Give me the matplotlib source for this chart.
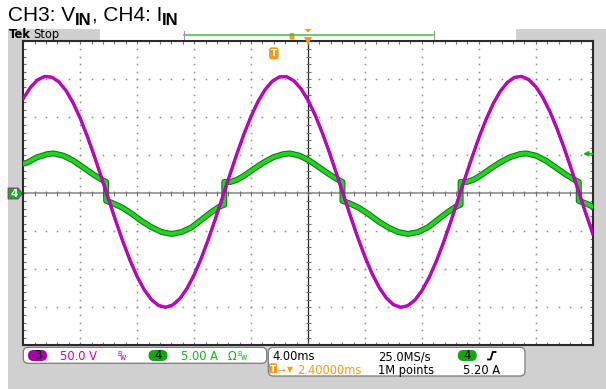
import matplotlib
matplotlib.use('Agg')
import numpy as np
import matplotlib.pyplot as plt
from matplotlib.patches import FancyBboxPatch, Polygon, Rectangle
from matplotlib.collections import LineCollection
from matplotlib.transforms import blended_transform_factory

# //////////////////////////////
# VALUES (time in ms, trigger point = 0)

# CH3 : input voltage [V]
t_v = [-20.0, -19.5, -19.0, -18.5, -18.0, -17.5, -17.0, -16.5, -16.0, -15.5,
       -15.0, -14.5, -14.0, -13.5, -13.0, -12.5, -12.0, -11.5, -11.0, -10.5,
       -10.0, -9.5, -9.0, -8.5, -8.0, -7.5, -7.0, -6.5, -6.0, -5.5,
       -5.0, -4.5, -4.0, -3.5, -3.0, -2.5, -2.0, -1.5, -1.0, -0.5,
       0.0, 0.5, 1.0, 1.5, 2.0, 2.5, 3.0, 3.5, 4.0, 4.5,
       5.0, 5.5, 6.0, 6.5, 7.0, 7.5, 8.0, 8.5, 9.0, 9.5,
       10.0, 10.5, 11.0, 11.5, 12.0, 12.5, 13.0, 13.5, 14.0, 14.5,
       15.0, 15.5, 16.0, 16.5, 17.0, 17.5, 18.0, 18.5, 19.0, 19.5, 20.0]
v_in = [124.7, 139.3, 149.2, 153.7, 152.8, 146.6, 135.1, 119.0, 98.6, 74.8,
        48.4, 20.3, -8.4, -36.7, -63.7, -88.3, -109.7, -127.1, -139.9, -147.6,
        -150.0, -146.9, -138.6, -125.2, -107.3, -85.5, -60.5, -33.3, -4.9, 23.8,
        51.7, 77.8, 101.3, 121.2, 136.8, 147.6, 153.2, 153.4, 148.2, 137.8,
        122.6, 103.0, 79.8, 53.9, 26.0, -2.6, -31.1, -58.4, -83.6, -105.7,
        -123.9, -137.7, -146.5, -150.0, -148.0, -140.7, -128.2, -111.2, -90.1, -65.7,
        -38.9, -10.6, 18.1, 46.2, 72.8, 96.8, 117.5, 134.0, 145.8, 152.5,
        153.8, 149.7, 140.3, 126.0, 107.2, 84.7, 59.2, 31.7, 3.1, -25.5, -53.1]

# CH4 : input current [A]  (steps at the voltage zero crossings)
t_i = [-20.00, -19.71, -19.02, -18.33, -17.87, -17.18, -16.49, -15.79, -15.10, -14.41,
       -14.18, -14.18, -13.72, -13.03, -12.34, -11.65, -10.96, -10.27, -9.58, -8.89,
       -8.19, -7.50, -6.81, -6.26, -5.88, -5.88, -5.42, -4.96, -4.50, -3.81,
       -3.12, -2.43, -1.74, -1.28, -0.59, 0.10, 0.80, 1.49, 2.19, 2.42,
       2.42, 2.88, 3.57, 4.26, 4.95, 5.64, 6.34, 7.03, 7.72, 8.41,
       9.10, 9.80, 10.35, 10.72, 10.72, 11.18, 11.64, 12.10, 12.79, 13.48,
       14.18, 14.87, 15.33, 16.02, 16.71, 17.40, 18.09, 18.79, 19.02, 19.02,
       19.48, 20.00]
i_in = [3.9, 4.05, 4.75, 5.15, 5.25, 4.95, 4.3, 3.4, 2.5, 1.7,
        1.5, -1.0, -1.3, -1.9, -2.75, -3.7, -4.5, -5.1, -5.35, -5.1,
        -4.5, -3.5, -2.5, -1.8, -1.5, 1.5, 1.5, 1.8, 2.3, 3.2,
        4.05, 4.75, 5.15, 5.25, 4.95, 4.3, 3.4, 2.5, 1.7, 1.5,
        -1.0, -1.3, -1.9, -2.75, -3.7, -4.5, -5.1, -5.35, -5.1, -4.5,
        -3.5, -2.5, -1.8, -1.5, 1.5, 1.5, 1.8, 2.3, 3.2, 4.05,
        4.75, 5.15, 5.25, 4.95, 4.3, 3.4, 2.5, 1.7, 1.5, -1.0,
        -1.3, -1.75]

# scope settings shown on screen
volts_per_div = 50.0
amps_per_div = 5.0
ms_per_div = 4.0
sample_rate_txt = '25.0MS/s'
record_txt = '1M points'
trig_pos_ms = -2.4
trig_level = 5.20

# //////////////////////////////
# COLOURS
CH3 = '#c400c4'
CH3_DARK = '#96149a'
CH4 = '#22d422'
CH4_DARK = '#137313'
CH4_TXT = '#19b019'
ORANGE = '#f59a1a'
PANEL = '#d0d0d0'

W, H = 606, 389
fig = plt.figure(figsize=(W / 100, H / 100), dpi=100)
fig.patch.set_facecolor('white')
renderer = fig.canvas.get_renderer()

# background axes in pixel units
bg = fig.add_axes([0, 0, 1, 1])
bg.set_xlim(0, W)
bg.set_ylim(H, 0)
bg.axis('off')
bg.add_patch(Rectangle((8, 29), W - 8, H - 29, fc=PANEL, ec='none'))


def text_runs(ax, x, y, parts, family='DejaVu Sans'):
    # put several text pieces one after another on the same baseline
    for s, size, weight, dy, color in parts:
        t = ax.text(x, y + dy, s, fontsize=size, fontweight=weight, family=family,
                    color=color, va='baseline', ha='left')
        x += t.get_window_extent(renderer).width
    return x


# title
text_runs(bg, 8, 20.7, [('CH3: V', 15, 'normal', 0, 'black'),
                        ('IN', 12, 'bold', 4.3, 'black'),
                        (', CH4: I', 15, 'normal', 0, 'black'),
                        ('IN', 12, 'bold', 4.3, 'black')], family='Liberation Sans')

# Tek Stop + record view bar
bg.text(8.5, 38.2, 'Tek', fontsize=8.3, fontweight='bold', va='baseline', ha='left')
bg.text(33, 38.2, 'Stop', fontsize=8.3, va='baseline', ha='left')
bg.add_patch(Rectangle((100, 29), 416, 11, fc='white', ec='none'))
bg.plot([184, 433], [34.5, 34.5], color='#3cbf3c', lw=1.1)
bg.plot([183.5, 183.5], [30.5, 39.5], color='#9a9a9a', lw=0.8)
bg.plot([433.5, 433.5], [30.5, 39.5], color='#9a9a9a', lw=0.8)
bg.add_patch(FancyBboxPatch((289.5, 33), 5, 6.5, boxstyle='round,pad=0,rounding_size=1',
                            fc=ORANGE, ec='none'))
bg.add_patch(Polygon([(304.5, 29), (311.5, 29), (308, 32.5)], closed=True, fc=ORANGE, ec='none'))

# //////////////////////////////
# GRATICULE
rect = [23.3 / W, 1 - 345.3 / H, 569.4 / W, 304.0 / H]
g = fig.add_axes(rect)
g.set_xlim(-5, 5)
g.set_ylim(-4, 4)
g.set_facecolor('white')
g.set_xticks([])
g.set_yticks([])
for s in g.spines.values():
    s.set_color('#2a2a2a')
    s.set_linewidth(1.5)

px_x = 10 / 569.4
px_y = 8 / 304.0
minor_x = np.round(np.arange(-5, 5.001, 0.2), 3)
minor_y = np.round(np.arange(-4, 4.001, 0.2), 3)

for xd in range(-4, 5):
    if xd != 0:
        g.plot(np.full(len(minor_y), xd), minor_y, ls='none', marker='s', ms=1.1,
               mew=0, color='#8a8a8a')
for yd in range(-3, 4):
    if yd != 0:
        g.plot(minor_x, np.full(len(minor_x), yd), ls='none', marker='s', ms=1.1,
               mew=0, color='#8a8a8a')

g.axhline(0, color='#858585', lw=1.1)
g.axvline(0, color='#262626', lw=0.9)

segs = []
for x in minor_x:
    segs.append([(x, -2.5 * px_y), (x, 2.5 * px_y)])
    segs.append([(x, 4), (x, 4 - 3 * px_y)])
    segs.append([(x, -4), (x, -4 + 3 * px_y)])
for y in minor_y:
    segs.append([(-2.5 * px_x, y), (2.5 * px_x, y)])
    segs.append([(-5, y), (-5 + 3 * px_x, y)])
    segs.append([(5, y), (5 - 3 * px_x, y)])
g.add_collection(LineCollection(segs, colors='#707070', linewidths=0.8))

# //////////////////////////////
# TRACES
ai = fig.add_axes(rect)
ai.set_xlim(-5 * ms_per_div, 5 * ms_per_div)
ai.set_ylim(-4 * amps_per_div, 4 * amps_per_div)
ai.axis('off')
ai.plot(t_i, i_in, color=CH4_DARK, lw=4.3, solid_joinstyle='round')
ai.plot(t_i, i_in, color=CH4, lw=2.8, solid_joinstyle='round')

av = ai.twinx()
av.set_ylim(-4 * volts_per_div, 4 * volts_per_div)
av.axis('off')
av.plot(t_v, v_in, color=CH3_DARK, lw=2.4, solid_joinstyle='round')
av.plot(t_v, v_in, color=CH3, lw=1.8, solid_joinstyle='round')

# trigger level arrow (right edge) and trigger position marker (top)
tr_y = blended_transform_factory(av.transAxes, ai.transData)
av.annotate('', xy=(0.983, trig_level), xytext=(1.0, trig_level), xycoords=tr_y,
            textcoords=tr_y, annotation_clip=False,
            arrowprops=dict(arrowstyle='-|>', color=CH4_TXT, lw=1.2, mutation_scale=7,
                            shrinkA=0, shrinkB=0))
tr_x = blended_transform_factory(ai.transData, ai.transAxes)
av.text(trig_pos_ms, 0.96, 'T', transform=tr_x, ha='center', va='center', color='white',
        fontsize=6.5, fontweight='bold', clip_on=False,
        bbox=dict(boxstyle='round,pad=0.18,rounding_size=0.3', fc=ORANGE, ec='none'))
av.plot([0], [1.0], transform=tr_x, marker='v', ms=6, color=ORANGE, mew=0, clip_on=False)

# ground marker for CH4 / CH3 at the left
bg.add_patch(Polygon([(8, 188), (18, 188), (22.5, 193.5), (18, 199), (8, 199)], closed=True,
                     fc='#12b012', ec=CH3, lw=0.6, zorder=5))
bg.text(14, 197.3, '4', color='white', fontsize=7.5, fontweight='bold', ha='center',
        va='baseline', zorder=6)

# //////////////////////////////
# READOUT BOXES
box_style = 'round,pad=0,rounding_size=5'
bg.add_patch(FancyBboxPatch((23.3, 347.3), 243.4, 16, boxstyle=box_style,
                            fc='white', ec='#7a7a7a', lw=0.9))
bg.add_patch(FancyBboxPatch((268.3, 347.3), 256.7, 28.7, boxstyle=box_style,
                            fc='white', ec='#7a7a7a', lw=0.9))

FS = 8.3
L1, L2 = 360.0, 373.6


def badge(xc, label, color):
    bg.add_patch(FancyBboxPatch((xc - 9.5, 350.0), 19, 11, boxstyle='round,pad=0,rounding_size=5.5',
                                fc=color, ec='none'))
    bg.text(xc, L1 - 0.6, label, fontsize=FS, ha='center', va='baseline', color='black')


def bw_mark(x, color):
    bg.text(x, L1 - 3.5, 'B', fontsize=4.8, color=color, va='baseline', ha='left')
    bg.text(x + 3, L1, 'w', fontsize=5.5, color=color, va='baseline', ha='left')


badge(37.5, '3', '#a600a6')
bg.text(60, L1, f'{volts_per_div:.1f} V', fontsize=FS, color=CH3, va='baseline')
bw_mark(117, CH3)
badge(158, '4', '#10a810')
bg.text(181, L1, f'{amps_per_div:.2f} A', fontsize=FS, color=CH4_TXT, va='baseline')
bg.text(228, L1, 'Ω', fontsize=FS, color=CH4_TXT, va='baseline')
bw_mark(237.5, CH4_TXT)

bg.text(272.7, L1, f'{ms_per_div:.2f}ms', fontsize=FS, color='black', va='baseline')
bg.text(378.3, L1, sample_rate_txt, fontsize=FS, color='black', va='baseline')
badge(467.3, '4', '#10a810')
bg.plot([488, 490.5, 492.8, 495.5], [359.5, 359.5, 352, 352], color='black', lw=1.3)

bg.add_patch(FancyBboxPatch((269, 363.3), 8, 10, boxstyle='round,pad=0,rounding_size=1.5',
                            fc=ORANGE, ec='none'))
bg.text(273, L2 - 1.3, 'T', fontsize=6.5, fontweight='bold', color='white', ha='center',
        va='baseline')
bg.text(277.5, L2 - 0.5, '→', fontsize=6.5, color=ORANGE, va='baseline')
bg.text(286.5, L2 - 2.0, '▼', fontsize=5.5, color=ORANGE, va='baseline')
bg.text(297.5, L2, f'{abs(trig_pos_ms):.5f}ms', fontsize=FS, color=ORANGE, va='baseline')
bg.text(378.3, L2, record_txt, fontsize=FS, color='black', va='baseline')
bg.text(463.3, L2, f'{trig_level:.2f} A', fontsize=FS, color='black', va='baseline')

fig.savefig('out.png', dpi=100)
